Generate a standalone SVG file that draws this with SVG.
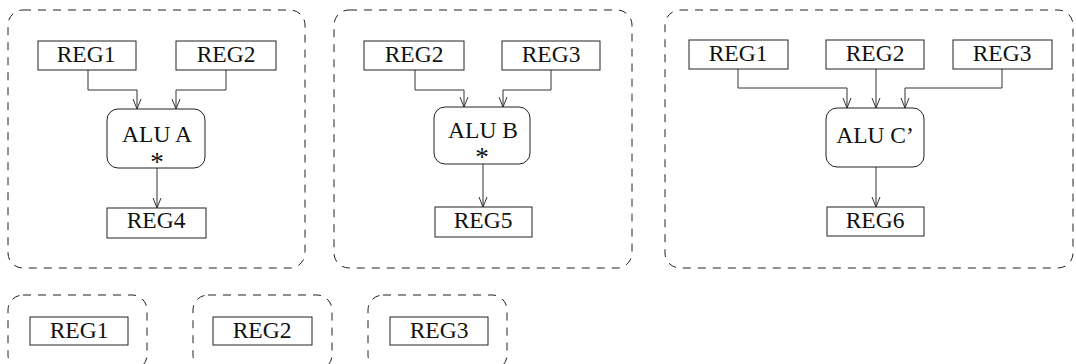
<svg xmlns="http://www.w3.org/2000/svg" width="1076" height="364" viewBox="0 0 1076 364">
  <style>
    .frame { fill: none; stroke: #222; stroke-width: 1; stroke-dasharray: 8 7; }
    .reg { fill: #fff; stroke: #222; stroke-width: 1; }
    .alu { fill: #fff; stroke: #222; stroke-width: 1; }
    .lbl { font-family: "Liberation Serif", "Times New Roman", serif; font-size: 23.5px; fill: #111; text-anchor: middle; }
    .star { font-family: "Liberation Serif", "Times New Roman", serif; font-size: 27px; fill: #111; text-anchor: middle; }
    .wire { fill: none; stroke: #333; stroke-width: 1; marker-end: url(#arr); }
  </style>
  <defs>
    <marker id="arr" viewBox="0 0 10 10" refX="10" refY="5" markerWidth="10" markerHeight="10" markerUnits="userSpaceOnUse" orient="auto">
      <path d="M0,1 L10,5 L0,9" fill="none" stroke="#333" stroke-width="1"/>
    </marker>
  </defs>
  <rect width="1076" height="364" fill="#fff"/>

  <!-- cluster frames -->
  <g id="frames">
    <rect class="frame" x="8" y="10" width="297" height="258" rx="15"/>
    <rect class="frame" x="334" y="10" width="298" height="258" rx="15"/>
    <rect class="frame" x="665" y="10" width="408" height="258" rx="15"/>
    <rect class="frame" x="8" y="295" width="139" height="75" rx="15"/>
    <rect class="frame" x="193" y="295" width="139" height="75" rx="15"/>
    <rect class="frame" x="368" y="295" width="139" height="75" rx="15"/>
  </g>

  <!-- connectors -->
  <g id="connectors">
    <polyline class="wire" points="88,70 88,90 137,90 137,109"/>
    <polyline class="wire" points="226,70 226,90 176,90 176,109"/>
    <line class="wire" x1="157" y1="168" x2="157" y2="208"/>

    <polyline class="wire" points="415,70 415,90 464,90 464,107"/>
    <polyline class="wire" points="551,70 551,90 503,90 503,107"/>
    <line class="wire" x1="483" y1="164" x2="483" y2="207"/>

    <polyline class="wire" points="738,69 738,88 847,88 847,108"/>
    <line class="wire" x1="876" y1="69" x2="876" y2="108"/>
    <polyline class="wire" points="1002,69 1002,88 905,88 905,108"/>
    <line class="wire" x1="876" y1="167" x2="876" y2="207"/>
  </g>

  <!-- cluster A -->
  <g id="a-reg1"><rect class="reg" x="38" y="41" width="98" height="29"/><text class="lbl" x="86" y="62">REG1</text></g>
  <g id="a-reg2"><rect class="reg" x="176" y="41" width="100" height="29"/><text class="lbl" x="226" y="62">REG2</text></g>
  <g id="alu-a"><rect class="alu" x="107" y="109" width="98" height="59" rx="11"/><text class="lbl" x="157" y="142">ALU A</text><text class="star" x="157" y="171">*</text></g>
  <g id="reg4"><rect class="reg" x="107" y="208" width="99" height="30"/><text class="lbl" x="156" y="228">REG4</text></g>

  <!-- cluster B -->
  <g id="b-reg2"><rect class="reg" x="364" y="41" width="100" height="29"/><text class="lbl" x="414" y="62">REG2</text></g>
  <g id="b-reg3"><rect class="reg" x="502" y="41" width="98" height="29"/><text class="lbl" x="551" y="62">REG3</text></g>
  <g id="alu-b"><rect class="alu" x="434" y="107" width="96" height="57" rx="11"/><text class="lbl" x="483" y="138">ALU B</text><text class="star" x="482" y="166">*</text></g>
  <g id="reg5"><rect class="reg" x="435" y="207" width="97" height="30"/><text class="lbl" x="483" y="228">REG5</text></g>

  <!-- cluster C -->
  <g id="c-reg1"><rect class="reg" x="689" y="40" width="99" height="29"/><text class="lbl" x="738" y="61">REG1</text></g>
  <g id="c-reg2"><rect class="reg" x="826" y="40" width="98" height="29"/><text class="lbl" x="875" y="61">REG2</text></g>
  <g id="c-reg3"><rect class="reg" x="953" y="40" width="99" height="29"/><text class="lbl" x="1002" y="61">REG3</text></g>
  <g id="alu-c"><rect class="alu" x="826" y="108" width="98" height="59" rx="11"/><text class="lbl" x="875" y="143">ALU C’</text></g>
  <g id="reg6"><rect class="reg" x="827" y="207" width="97" height="29"/><text class="lbl" x="875" y="228">REG6</text></g>

  <!-- lone registers -->
  <g id="d-reg1"><rect class="reg" x="30" y="317" width="98" height="28"/><text class="lbl" x="79" y="338">REG1</text></g>
  <g id="d-reg2"><rect class="reg" x="213" y="317" width="99" height="28"/><text class="lbl" x="262" y="338">REG2</text></g>
  <g id="d-reg3"><rect class="reg" x="390" y="317" width="98" height="28"/><text class="lbl" x="439" y="338">REG3</text></g>
</svg>
